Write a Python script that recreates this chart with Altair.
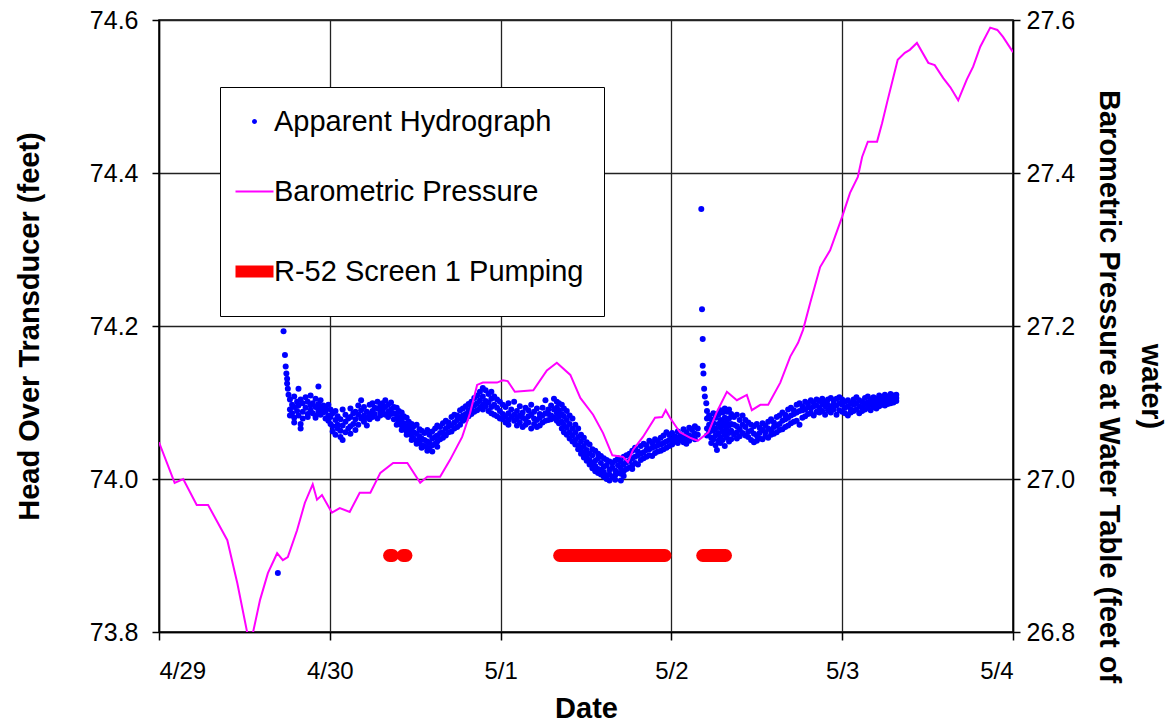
import altair as alt
import pandas as pd

FONT = "Liberation Sans"

# ---------------- data ----------------
day_hours = [0, 24, 48, 72, 96, 120]
day_labels = ["4/29", "4/30", "5/1", "5/2", "5/3", "5/4"]
head_ticks = [73.8, 74.0, 74.2, 74.4, 74.6]
baro_ticks = [26.8, 27.0, 27.2, 27.4, 27.6]

series_names = ["Apparent Hydrograph", "Barometric Pressure", "R-52 Screen 1 Pumping"]
series_colors = ["#0000FF", "#FF00FF", "#FF0000"]

# barometric pressure (hours after 4/29 00:00, feet of water)
baro_hour = [0, 2.2, 3.4, 5.3, 6.9, 9.6, 11.0, 12.4, 13.2, 14.2, 15.3, 16.6, 17.4, 18.1,
             19.4, 20.5, 21.6, 22.2, 22.9, 24.3, 25.4, 26.8, 28.2, 29.7, 31.1, 32.9, 34.9,
             36.7, 37.7, 39.5, 40.9, 42.6, 43.7, 44.7, 45.5, 47.5, 48.3, 49.0, 50.0, 52.6,
             54.5, 55.9, 57.8, 59.2, 61.0, 62.4, 63.7, 65.2, 65.9, 66.6, 68.0, 69.7, 70.7,
             71.2, 71.8, 73.2, 74.6, 75.7, 77.2, 78.4, 79.8, 81.2, 82.6, 83.3, 84.5, 85.6,
             87.3, 88.7, 89.8, 90.5, 91.5, 92.9, 94.3, 96.0, 97.1, 98.2, 98.8, 99.6, 100.9,
             101.6, 102.3, 103.1, 103.8, 104.8, 105.5, 106.5, 108.1, 109.0, 110.2, 111.2,
             112.3, 113.5, 114.4, 115.4, 116.8, 117.8, 118.6, 120.0]
baro_value = [27.048, 26.995, 27.000, 26.966, 26.966, 26.920, 26.864, 26.799, 26.799, 26.842,
              26.877, 26.903, 26.894, 26.898, 26.933, 26.969, 26.993, 26.973, 26.979, 26.956,
              26.962, 26.957, 26.982, 26.982, 27.008, 27.021, 27.021, 26.995, 27.003, 27.003,
              27.025, 27.055, 27.086, 27.123, 27.126, 27.126, 27.129, 27.128, 27.114, 27.116,
              27.142, 27.152, 27.136, 27.106, 27.084, 27.060, 27.031, 27.029, 27.022, 27.038,
              27.055, 27.080, 27.081, 27.090, 27.080, 27.061, 27.054, 27.050, 27.061, 27.088,
              27.114, 27.103, 27.110, 27.090, 27.097, 27.097, 27.126, 27.160, 27.178, 27.195,
              27.230, 27.277, 27.299, 27.343, 27.374, 27.395, 27.421, 27.441, 27.441, 27.465,
              27.492, 27.522, 27.548, 27.557, 27.561, 27.570, 27.544, 27.541, 27.524, 27.512,
              27.495, 27.522, 27.539, 27.565, 27.590, 27.587, 27.578, 27.558]

# apparent hydrograph: hour, then the heads read at that hour (feet)
hyd_hour = [
    16.7, 17.5, 17.7, 17.8, 17.9, 18.0, 18.1, 18.2,
    18.4, 18.7, 19.0, 19.4, 19.6, 19.9, 20.2, 20.6, 20.9, 21.3, 21.6, 22.0, 22.4, 22.7,
    23.1, 23.4, 23.8,
    24.1, 24.4, 24.8, 25.1, 25.5, 25.8, 26.2, 26.6, 26.9, 27.3, 27.6, 28.0, 28.4, 28.8,
    29.2, 29.6,
    30.0, 30.3, 30.7, 31.1, 31.4, 31.8, 32.2, 32.6, 33.0,
    33.4, 33.7, 34.1, 34.4, 34.8, 35.1, 35.5, 35.8, 36.2, 36.6,
    36.9, 37.3, 37.7, 38.0, 38.4, 38.8, 39.1, 39.5, 39.9,
    40.3, 40.7, 41.1, 41.5, 41.9, 42.3, 42.7, 43.1, 43.5, 43.9, 44.3, 44.7,
    45.1, 45.5, 45.9, 46.3, 46.7, 47.1, 47.5, 47.9,
    48.3, 48.7, 49.1, 49.5, 49.9, 50.3, 50.7, 51.1, 51.5, 51.9, 52.3, 52.7, 53.1, 53.5,
    53.9, 54.3, 54.7, 55.1, 55.5,
    55.9, 56.2, 56.6, 56.9, 57.3, 57.7,
    58.1, 58.5, 58.9, 59.3, 59.7, 60.1, 60.5, 60.9, 61.3, 61.7,
    62.1, 62.5, 62.9, 63.3, 63.7, 64.1, 64.5, 64.9, 65.3, 65.7,
    66.1, 66.5, 66.9, 67.3, 67.7, 68.1, 68.5, 68.9, 69.3, 69.7, 70.1, 70.5, 70.9, 71.3, 71.7,
    72.1, 72.5, 72.9, 73.3, 73.7, 74.1, 74.5, 74.9, 75.3, 75.7,
    76.2, 76.3, 76.4, 76.5, 76.6, 76.7, 76.9,
    77.0, 77.3, 77.6, 77.9, 78.2, 78.4, 78.6, 78.9, 79.2, 79.5, 79.8, 80.1, 80.4, 80.8,
    81.2, 81.6, 82.0,
    82.4, 82.8, 83.2, 83.6, 84.0, 84.4, 84.8, 85.2, 85.6, 86.0, 86.4, 86.8,
    87.2, 87.6, 88.0, 88.4, 88.8, 89.2, 89.6, 90.0, 90.4, 90.8, 91.2, 91.6, 92.0, 92.4,
    92.8, 93.2, 93.6, 94.0, 94.4, 94.8, 95.2, 95.6,
    96.0, 96.4, 96.8, 97.2, 97.6, 98.0, 98.4, 98.8, 99.2, 99.6, 100.0, 100.4, 100.8,
    101.2, 101.6, 102.0, 102.4, 102.8, 103.2, 103.6]
hyd_heads = [
    [73.877], [74.193], [74.162], [74.147], [74.138], [74.131, 74.125], [74.118], [74.110],
    [74.104, 74.091, 74.083], [74.097, 74.086], [74.108, 74.094, 74.080, 74.074],
    [74.101, 74.089], [74.118, 74.096, 74.083], [74.104, 74.072, 74.066],
    [74.099, 74.088, 74.079], [74.107, 74.093], [74.101, 74.085, 74.081],
    [74.109, 74.096, 74.090], [74.099, 74.086], [74.105, 74.094, 74.083, 74.080],
    [74.121, 74.098, 74.089], [74.103, 74.092, 74.084], [74.096, 74.087],
    [74.094, 74.089, 74.079], [74.097, 74.083, 74.076],
    [74.091, 74.081, 74.072], [74.086, 74.069, 74.062], [74.089, 74.077, 74.058],
    [74.082, 74.071, 74.066], [74.078, 74.063, 74.055], [74.091, 74.070, 74.051],
    [74.084, 74.075, 74.061], [74.079, 74.066], [74.092, 74.081, 74.069, 74.059],
    [74.086, 74.072], [74.088, 74.078, 74.064], [74.096, 74.084, 74.071],
    [74.103, 74.090, 74.079], [74.094, 74.083, 74.075], [74.088, 74.080, 74.070],
    [74.097, 74.085, 74.078],
    [74.099, 74.089, 74.081], [74.093, 74.085], [74.101, 74.092, 74.079],
    [74.095, 74.087, 74.083], [74.099, 74.090], [74.103, 74.094, 74.084],
    [74.097, 74.088, 74.081], [74.100, 74.091, 74.085], [74.094, 74.086, 74.078],
    [74.093, 74.085, 74.079, 74.071], [74.089, 74.081, 74.074],
    [74.087, 74.078, 74.070, 74.064], [74.082, 74.073, 74.066],
    [74.080, 74.069, 74.062, 74.058], [74.075, 74.067, 74.060],
    [74.072, 74.064, 74.057, 74.051], [74.069, 74.061, 74.053],
    [74.071, 74.059, 74.050, 74.046], [74.065, 74.056, 74.048],
    [74.063, 74.053, 74.044, 74.041], [74.060, 74.051, 74.043],
    [74.064, 74.049, 74.041, 74.037], [74.058, 74.047, 74.039],
    [74.062, 74.053, 74.044, 74.036], [74.066, 74.055, 74.046],
    [74.070, 74.057, 74.049, 74.042], [74.068, 74.060, 74.052], [74.073, 74.061, 74.054],
    [74.076, 74.066, 74.057], [74.074, 74.069, 74.061], [74.081, 74.070, 74.062],
    [74.084, 74.074, 74.066], [74.083, 74.077, 74.068], [74.090, 74.080, 74.071],
    [74.092, 74.083, 74.076], [74.095, 74.085, 74.078], [74.098, 74.090, 74.082],
    [74.101, 74.093, 74.085], [74.106, 74.096, 74.088], [74.109, 74.099, 74.090],
    [74.114, 74.103, 74.093], [74.119, 74.108, 74.097, 74.091], [74.116, 74.102, 74.095],
    [74.111, 74.100, 74.089], [74.114, 74.105, 74.094, 74.086], [74.108, 74.097, 74.084],
    [74.104, 74.093, 74.082], [74.101, 74.089, 74.079],
    [74.097, 74.085, 74.078], [74.094, 74.082, 74.074], [74.099, 74.086, 74.077, 74.071],
    [74.091, 74.081], [74.101, 74.084, 74.076], [74.089, 74.079, 74.070],
    [74.095, 74.083, 74.074], [74.087, 74.080, 74.068], [74.093, 74.078, 74.071],
    [74.090, 74.082, 74.074], [74.097, 74.084, 74.066], [74.088, 74.079, 74.072],
    [74.092, 74.077, 74.068], [74.085, 74.080, 74.070], [74.093, 74.083, 74.074],
    [74.103, 74.086, 74.076], [74.091, 74.085, 74.077], [74.096, 74.083, 74.078],
    [74.105, 74.091, 74.080],
    [74.101, 74.093, 74.086, 74.076], [74.099, 74.090, 74.081, 74.073],
    [74.097, 74.085, 74.075, 74.066], [74.092, 74.082, 74.071, 74.061],
    [74.089, 74.077, 74.067, 74.058], [74.083, 74.072, 74.061, 74.053],
    [74.079, 74.066, 74.057, 74.049], [74.071, 74.061, 74.051, 74.045],
    [74.066, 74.055, 74.044, 74.039], [74.058, 74.049, 74.040, 74.033],
    [74.054, 74.043, 74.035, 74.028], [74.048, 74.038, 74.030, 74.024],
    [74.045, 74.033, 74.025, 74.019], [74.039, 74.031, 74.021, 74.014],
    [74.037, 74.024, 74.017, 74.010], [74.033, 74.027, 74.013, 74.008],
    [74.030, 74.021, 74.012, 74.006], [74.027, 74.016, 74.009, 74.003],
    [74.025, 74.018, 74.005, 74.000], [74.023, 74.012, 74.006, 73.998],
    [74.021, 74.015, 74.003], [74.024, 74.011, 74.005, 73.999], [74.027, 74.018, 74.008],
    [74.023, 74.014, 74.007, 73.998], [74.029, 74.019, 74.010, 74.004],
    [74.031, 74.022, 74.013],
    [74.033, 74.024, 74.015], [74.037, 74.027, 74.018, 74.013], [74.041, 74.029, 74.021],
    [74.036, 74.031, 74.019], [74.043, 74.033, 74.025], [74.046, 74.035, 74.027],
    [74.044, 74.038, 74.029], [74.050, 74.039, 74.031], [74.047, 74.041, 74.030],
    [74.052, 74.042, 74.034], [74.049, 74.044, 74.036], [74.054, 74.045, 74.037],
    [74.057, 74.047, 74.039], [74.061, 74.049, 74.041], [74.058, 74.051, 74.043],
    [74.060, 74.052, 74.045], [74.056, 74.049], [74.062, 74.054, 74.047], [74.058, 74.051],
    [74.065, 74.055, 74.048], [74.061, 74.053, 74.046], [74.067, 74.057, 74.050],
    [74.064, 74.056], [74.069, 74.059, 74.052], [74.066, 74.058],
    [74.353], [74.222], [74.183, 74.148], [74.138], [74.118], [74.108], [74.099],
    [74.089, 74.079, 74.066, 74.057], [74.083, 74.071, 74.061],
    [74.078, 74.068, 74.054, 74.047], [74.086, 74.073, 74.063, 74.052],
    [74.080, 74.066, 74.057, 74.044], [74.038], [74.084, 74.072, 74.060, 74.050],
    [74.090, 74.077, 74.067, 74.055, 74.047], [74.087, 74.074, 74.062, 74.051],
    [74.092, 74.080, 74.069, 74.058, 74.043], [74.088, 74.075, 74.064, 74.054],
    [74.091, 74.079, 74.070, 74.060, 74.049], [74.085, 74.072, 74.063, 74.052],
    [74.081, 74.071, 74.058], [74.084, 74.069, 74.061, 74.053], [74.077, 74.065, 74.056],
    [74.083, 74.071, 74.060],
    [74.077, 74.068, 74.057], [74.074, 74.062, 74.055], [74.071, 74.063, 74.051],
    [74.069, 74.059, 74.048], [74.072, 74.057, 74.050], [74.067, 74.060, 74.053],
    [74.073, 74.064, 74.052], [74.070, 74.061, 74.056], [74.075, 74.066, 74.054],
    [74.078, 74.063, 74.058], [74.074, 74.068, 74.059], [74.081, 74.070, 74.061],
    [74.083, 74.072, 74.064], [74.087, 74.076, 74.065], [74.084, 74.078, 74.068],
    [74.091, 74.080, 74.070], [74.093, 74.083, 74.073], [74.090, 74.085, 74.075],
    [74.097, 74.087, 74.076], [74.099, 74.089, 74.071], [74.095, 74.090, 74.080],
    [74.101, 74.091, 74.082], [74.098, 74.094, 74.085], [74.103, 74.092, 74.086],
    [74.100, 74.095, 74.083], [74.104, 74.096, 74.088], [74.102, 74.093, 74.087],
    [74.105, 74.098, 74.089], [74.101, 74.095, 74.084], [74.104, 74.097, 74.090],
    [74.106, 74.094, 74.087], [74.103, 74.098, 74.091], [74.105, 74.096, 74.084],
    [74.107, 74.099, 74.090],
    [74.104, 74.097, 74.088], [74.101, 74.093, 74.086], [74.103, 74.095, 74.083],
    [74.099, 74.091, 74.087], [74.104, 74.097, 74.089], [74.107, 74.099, 74.091],
    [74.103, 74.095, 74.086], [74.101, 74.094, 74.089], [74.106, 74.098, 74.091],
    [74.108, 74.100, 74.093], [74.104, 74.097, 74.090], [74.107, 74.101, 74.094],
    [74.105, 74.099, 74.092], [74.109, 74.102, 74.095], [74.107, 74.100, 74.097],
    [74.110, 74.103, 74.096], [74.108, 74.101, 74.098], [74.111, 74.104, 74.099],
    [74.109, 74.105, 74.100], [74.110, 74.106, 74.102]]

# pumping periods (hours after 4/29 00:00) drawn at head 73.9
pump_start = [32.4, 34.3, 56.3, 76.4]
pump_end = [32.8, 34.7, 71.1, 79.6]
pump_level = [73.9, 73.9, 73.9, 73.9]

# ---------------- frames ----------------
hyd_rows = []
for h, heads in zip(hyd_hour, hyd_heads):
    for v in heads:
        hyd_rows.append({"hour": h, "head": v, "series": series_names[0]})
hyd_df = pd.DataFrame(hyd_rows)

baro_df = pd.DataFrame({"hour": baro_hour, "pressure": baro_value,
                        "series": series_names[1]})
pump_df = pd.DataFrame({"start": pump_start, "end": pump_end, "level": pump_level,
                        "series": series_names[2]})

# ---------------- chart ----------------
label_expr = "[" + ",".join(f"'{d}'" for d in day_labels) + "][round(datum.value/24)]"

color_scale = alt.Scale(domain=series_names, range=series_colors)

n0, n1, n2 = series_names
c0, c1, c2 = series_colors
dot_path = "M-0.13,0A0.13,0.13,0,1,1,0.13,0A0.13,0.13,0,1,1,-0.13,0Z"

legend = alt.Legend(
    title=None, orient="none", legendX=61, legendY=67,
    fillColor="white", strokeColor="black", padding=20,
    labelFont=FONT, labelFontSize=29, labelColor="black", labelOffset=5, labelLimit=600,
    symbolSize=1444, rowPadding=40, symbolOpacity=1,
    symbolType=alt.ExprRef(expr=f"datum.value === '{n0}' ? '{dot_path}' : 'stroke'"),
    symbolStrokeWidth=alt.ExprRef(
        expr=f"datum.value === '{n2}' ? 12 : (datum.value === '{n1}' ? 2 : 0)"),
    symbolFillColor=alt.ExprRef(
        expr=f"datum.value === '{n0}' ? '{c0}' : 'transparent'"),
    symbolStrokeColor=alt.ExprRef(
        expr=f"datum.value === '{n2}' ? '{c2}' : (datum.value === '{n1}' ? '{c1}' : '{c0}')"),
)

x_enc = alt.X("hour:Q",
              scale=alt.Scale(domain=[0, 120], nice=False, zero=False),
              axis=alt.Axis(title="Date", values=day_hours, labelExpr=label_expr,
                            labelFontSize=24, tickSize=8, labelPadding=19,
                            titlePadding=11, titleFontSize=29))

left_axis = alt.Axis(title="Head Over Transducer (feet)", values=head_ticks, format=".1f",
                     labelFontSize=25, tickSize=7, labelPadding=14, titlePadding=45,
                     titleFontSize=29)
right_axis = alt.Axis(title=["water)", "Barometric Pressure at Water Table (feet of"],
                      orient="right", values=baro_ticks, format=".1f", grid=False,
                      labelFontSize=25, tickSize=7, labelPadding=6, titlePadding=19,
                      titleFontSize=29, titleLineHeight=42, titleY=366)

pts = alt.Chart(hyd_df).mark_circle(size=36, opacity=1).encode(
    x=x_enc,
    y=alt.Y("head:Q", scale=alt.Scale(domain=[73.8, 74.6], nice=False, zero=False),
            axis=left_axis),
    color=alt.Color("series:N", scale=color_scale, legend=legend),
)

pump = alt.Chart(pump_df).mark_rule(strokeWidth=13, strokeCap="round").encode(
    x="start:Q", x2="end:Q", y="level:Q",
    color=alt.Color("series:N", scale=color_scale, legend=legend),
)

baro = alt.Chart(baro_df).mark_line(strokeWidth=2, clip=True).encode(
    x="hour:Q",
    y=alt.Y("pressure:Q", scale=alt.Scale(domain=[26.8, 27.6], nice=False, zero=False),
            axis=right_axis),
    color=alt.Color("series:N", scale=color_scale, legend=legend),
)

chart = alt.layer(alt.layer(pts, pump), baro).resolve_scale(y="independent").properties(
    width=854, height=612,
    autosize=alt.AutoSizeParams(type="none"),
    padding={"left": 159, "top": 20, "right": 159, "bottom": 93},
    background="white",
).configure_axis(
    labelFont=FONT, titleFont=FONT, labelColor="black", titleColor="black",
    titleFontWeight="bold", domainColor="black", domainWidth=1.5, tickColor="black",
    tickWidth=1.5, gridColor="#222222", gridWidth=1.3, gridOpacity=1,
).configure_view(stroke="black", strokeWidth=1.5)

chart.save("out.html", embed_options={"renderer": "svg", "actions": False})
